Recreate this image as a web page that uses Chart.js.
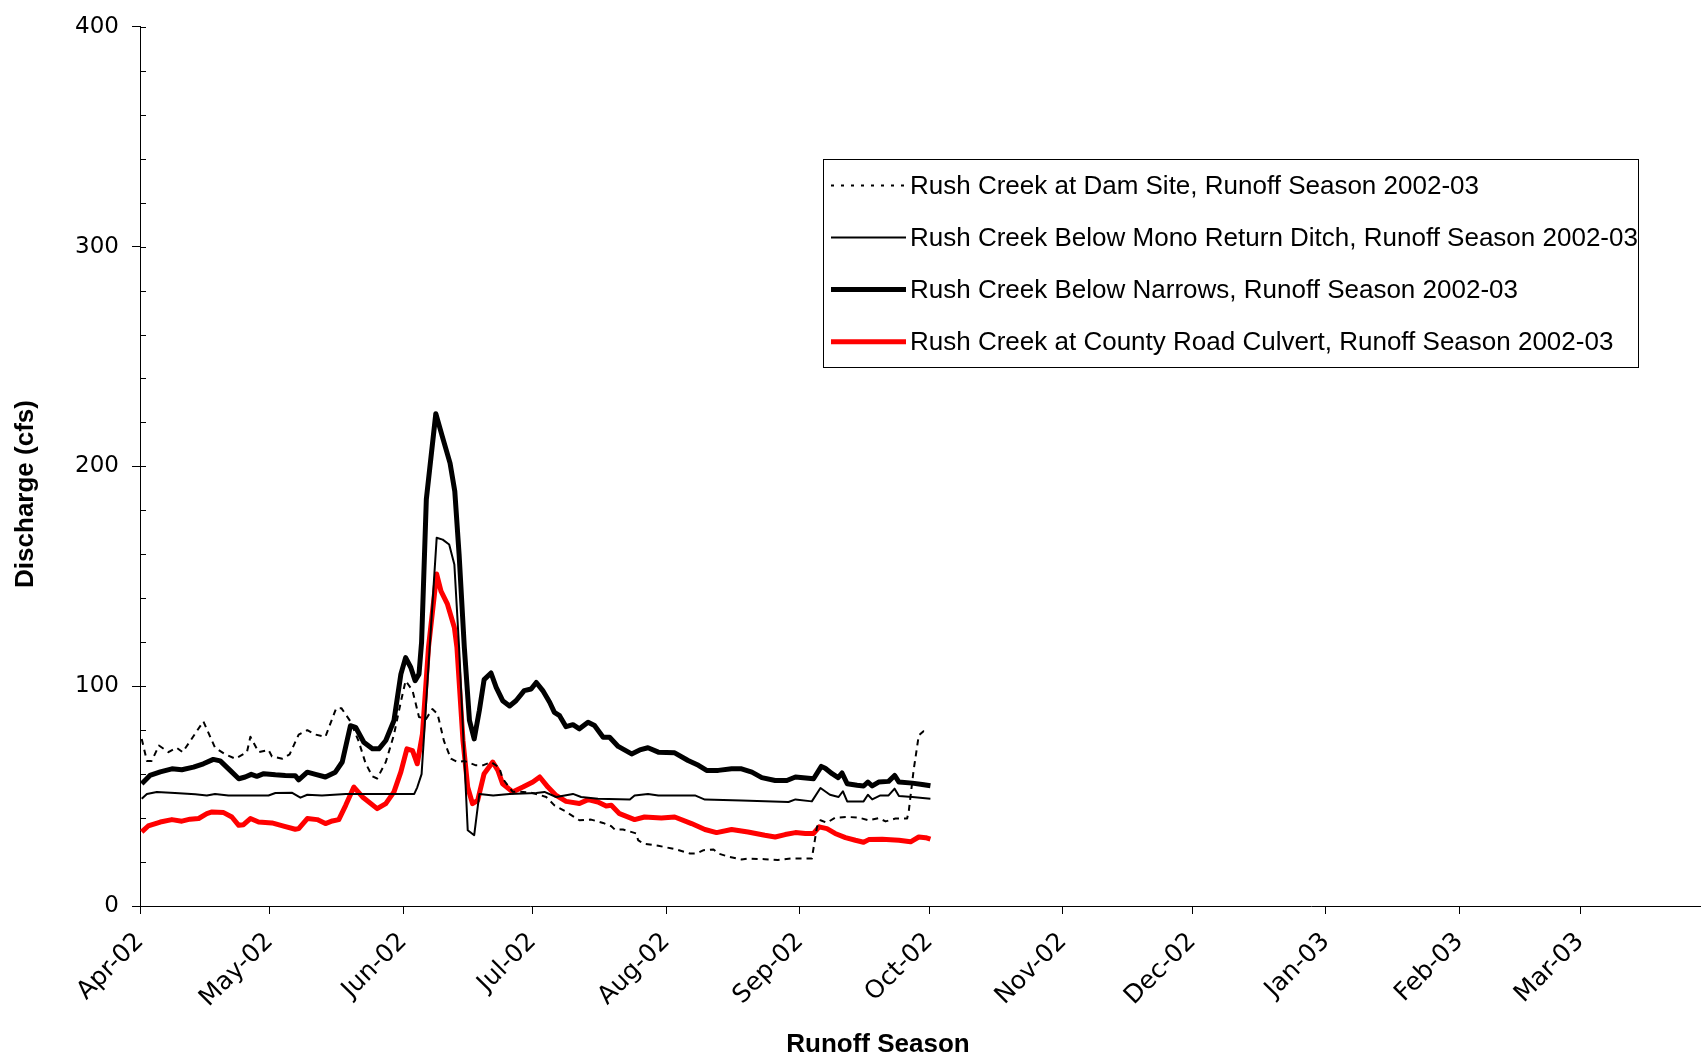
<!DOCTYPE html>
<html lang="en">
<head>
    <meta charset="UTF-8">
    <title>Rush Creek Discharge, Runoff Season 2002-03</title>
    <script src="https://cdn.jsdelivr.net/npm/chart.js"></script>
    <style>
        body { margin: 0; background: #fff; }
        canvas { display: block; }
    </style>
</head>
<body>
    <canvas id="flowChart" width="1701" height="1058"></canvas>

    <script>
        // Days are counted from 1 April 2002
        const monthDays = [0, 30, 61, 91, 122, 153, 183, 214, 244, 275, 306, 334];
        const monthLabels = ['Apr-02', 'May-02', 'Jun-02', 'Jul-02', 'Aug-02', 'Sep-02',
                             'Oct-02', 'Nov-02', 'Dec-02', 'Jan-03', 'Feb-03', 'Mar-03'];

        // Rush Creek at Dam Site
        const damDays = [0.4, 1.6, 2.7, 4.4, 6.6, 8.5, 9.9, 14.7, 17.4, 19.8, 22.1, 24.8, 25.6, 27.5, 29.8,
            30.6, 33, 34.7, 36.8, 38.8, 40.7, 43, 45.5, 46.7, 48.8, 50.7, 52.3, 53.9, 55, 57, 58.9, 60.5,
            61.6, 63.2, 64.7, 66.3, 67.8, 69, 70.5, 72.1, 73.6, 75.2, 77.9, 79.5, 81.4, 83.3, 84.1, 86.4,
            88, 90.7, 92.6, 94.2, 96.1, 98.5, 101.9, 104.6, 107.4, 109.3, 110.1, 112, 115.1, 115.5, 116.7,
            120.2, 124, 127.5, 129.1, 130.7, 133, 134.1, 136.5, 139.5, 141, 144.9, 147.9, 151, 155.8, 157,
            157.8, 159.3, 161.2, 164.3, 166.7, 169, 171.3, 172.9, 175.2, 177.9, 178.3, 179.4, 180.6, 181.7, 182.9];
        const damCfs = [76, 66, 66, 73, 70, 72, 70, 84, 72, 69, 67, 70, 77, 70, 71,
            68, 67, 69, 78, 80, 78, 77, 90, 90, 84, 75, 65, 59, 58, 65.5, 78, 93,
            102.5, 98, 86, 85, 89.6, 87.4, 75, 67, 65.5, 66, 64, 64, 65.5, 63, 58, 52,
            52, 51.5, 50.6, 49.6, 45.8, 43.2, 39, 39.3, 37.8, 36.3, 34.8, 34.8, 33, 30, 28.4,
            27.4, 25.9, 23.9, 23.9, 25.4, 25.7, 23.9, 22.4, 21.2, 21.6, 21.3, 20.9, 21.6, 21.6, 36,
            39, 37.9, 40.2, 40.5, 40.2, 39, 40, 38.5, 39.8, 39.8, 43.5, 61.7, 77.6, 79.5, 79.5];

        // Rush Creek Below Mono Return Ditch
        const monoDays = [0.4, 1.6, 3.9, 8.1, 12.8, 15.5, 17.4, 20.5, 29.8, 31.4, 35.3, 37.2, 38.8, 42.2,
            47.7, 54.7, 63.6, 64.3, 65.3, 68.8, 70.2, 71.7, 72.9, 74, 76, 77.5, 78.7, 81.9, 85.7, 91.9,
            93.8, 96.5, 98.5, 100.4, 102.3, 106.2, 113.6, 114.7, 117.8, 120.2, 124, 128.7, 131, 139.5,
            150.4, 152, 155.8, 157.8, 160, 162, 163, 164, 167.8, 168.8, 169.8, 171.7, 173.6, 175, 176,
            179.1, 183.3];
        const monoCfs = [48.8, 51, 51.9, 51.4, 50.8, 50.3, 51, 50.3, 50.3, 51.4, 51.5, 49.3, 50.6, 50.3,
            50.9, 51, 51, 54, 60, 167.5, 166.7, 164.5, 155.4, 117.6, 34.5, 32.2, 51, 50.3, 51, 51.4,
            51.9, 49.6, 50.3, 51, 49.6, 48.8, 48.4, 50.3, 51, 50.3, 50.3, 50.3, 48.4, 48,
            47.3, 48.5, 47.6, 53.7, 50.6, 49.6, 52.2, 47.6, 47.6, 50.6, 48.5, 50.3, 50.3, 53.4, 50,
            49.6, 48.8];

        // Rush Creek Below Narrows
        const narrowsDays = [0.4, 2.3, 4.7, 7.4, 9.7, 12.4, 14.7, 17, 18.6, 20.9, 22.9, 24.4, 25.8, 27.1,
            28.7, 31.4, 33.7, 36, 36.8, 38.8, 40.7, 43, 45.3, 46.9, 48.8, 50, 51.9, 53.9, 55.4, 57, 58.9,
            60.5, 61.6, 62.8, 63.8, 64.7, 65.3, 66.4, 68.6, 70.2, 71.9, 73, 74, 75.2, 76.4, 77.5, 78.7,
            79.8, 81.4, 82.6, 84.1, 85.7, 87.2, 89.1, 90.7, 91.9, 93.4, 95, 96.1, 97.3, 98.8, 100.4,
            101.9, 103.9, 105.4, 107.4, 108.9, 110.9, 114, 115.9, 117.8, 120.2, 124, 127.1, 129.5, 131.4,
            134.1, 137.2, 139.5, 141.9, 144.2, 147.3, 150, 152, 156.2, 158, 158.9, 160.5, 161.9, 162.8,
            164, 166.3, 167.8, 168.8, 169.8, 171.3, 173.6, 175, 176, 179.1, 181.4, 183.3];
        const narrowsCfs = [55.6, 59.4, 61, 62.4, 62, 63.2, 64.7, 66.7, 66, 61.7, 57.9, 58.7, 59.9, 59,
            60.2, 59.7, 59.4, 59.3, 57.4, 60.9, 59.9, 58.7, 60.9, 65.5, 82, 81.3, 74.5, 71.5, 71.5, 75.3, 84.4,
            105.5, 113, 108.5, 102.5, 105.5, 120, 185, 224, 213, 201.5, 188.7, 160, 118, 84.4, 76, 89,
            103, 106, 99.5, 93.4, 91, 93.4, 98, 98.7, 101.7, 98, 92.7, 88.1, 86.6, 81.6, 82.5,
            80.6, 83.6, 82.1, 76.8, 76.8, 72.6, 69.2, 71, 72, 70, 69.7, 66.2, 64, 61.7,
            61.7, 62.4, 62.4, 60.9, 58.4, 57.1, 57.1, 58.7, 57.9, 63.5, 62.7, 60.2, 58.4, 60.5,
            55.6, 54.9, 54.6, 56.4, 54.6, 56.4, 56.7, 59.4, 56.4, 55.9, 55.3, 54.7];

        // Rush Creek at County Road Culvert
        const culvertDays = [0.4, 1.9, 4.7, 7.4, 9.7, 11.6, 13.6, 15.5, 16.7, 19.4, 21.3, 22.9, 24, 25.6,
            27.5, 30.6, 33.3, 36, 36.8, 38.8, 41.1, 43, 44.6, 46.1, 47.7, 49.6, 51.6, 55, 57, 58.9, 60.5,
            61.9, 63.2, 64.3, 65.5, 66.9, 68.8, 69.8, 71.3, 72.9, 73.5, 74.9, 76, 77.1, 78.3, 79.8, 81.8,
            83, 84.1, 86.4, 88.8, 91.1, 92.7, 94.6, 96.5, 98.8, 101.9, 103.9, 106.2, 108.1, 109.3, 111.2,
            114.7, 117, 120.9, 124, 127.9, 131, 133.7, 137.2, 141, 144.9, 147.3, 149.6, 152, 154.3, 156.2,
            157.5, 159.3, 161.2, 163.6, 165.9, 167.8, 169, 172.1, 176, 178.7, 180.6, 182.2, 183.3];
        const culvertCfs = [33.7, 36.4, 38.2, 39.3, 38.6, 39.5, 39.8, 42, 42.8, 42.5, 40.5, 36.7, 37, 39.8,
            38.2, 37.8, 36.3, 34.9, 35.2, 39.8, 39.3, 37.5, 38.7, 39.3, 45.8, 54.1, 49.6, 44.3, 46.6, 51.9, 61,
            71.5, 70.7, 64.7, 78.3, 117.6, 151, 143.3, 137.3, 126.7, 117.6, 75.3, 54, 46.6, 48, 60.2, 65.5,
            61.7, 55.6, 51.9, 54.1, 56.4, 58.7, 54.1, 50.3, 47.6, 46.6, 48.4, 47.3, 45.5, 45.8, 42,
            39.3, 40.5, 40, 40.5, 37.5, 34.8, 33.4, 34.8, 33.7, 32.2, 31.4, 32.5, 33.4, 33, 33,
            36, 35.2, 33, 31.1, 29.9, 29, 30.2, 30.4, 29.9, 29.2, 31.4, 31.1, 30.4];

        // Pair day and value arrays into {x, y} points
        function toPoints(days, values) {
            return days.map((d, i) => ({ x: d, y: values[i] }));
        }

        const axisFont = "'DejaVu Sans', 'Liberation Sans', Arial, sans-serif";
        const textFont = "'Liberation Sans', Arial, sans-serif";
        const titleFont = "'Liberation Sans Narrow', 'Liberation Sans', Arial, sans-serif";

        // Tick marks inside the plot for the y axis (major every 100, minor every 20)
        const innerTicks = {
            id: 'innerTicks',
            afterDraw(chart) {
                const ctx = chart.ctx;
                const y = chart.scales.y;
                const left = chart.chartArea.left;
                ctx.save();
                ctx.strokeStyle = '#000';
                ctx.lineWidth = 1;
                for (let v = 0; v <= 400; v += 20) {
                    const py = Math.round(y.getPixelForValue(v)) + 0.5;
                    ctx.beginPath();
                    ctx.moveTo(left, py);
                    ctx.lineTo(left + 6, py);
                    ctx.stroke();
                }
                ctx.restore();
            }
        };

        // Axis titles placed like in the original sheet
        const axisTitles = {
            id: 'axisTitles',
            afterDraw(chart) {
                const ctx = chart.ctx;
                ctx.save();
                ctx.fillStyle = '#000';
                ctx.font = 'bold 26px ' + titleFont;
                ctx.textAlign = 'center';
                ctx.textBaseline = 'middle';
                ctx.fillText('Runoff Season', 878, 1045);
                ctx.translate(26, 494);
                ctx.rotate(-Math.PI / 2);
                ctx.fillText('Discharge (cfs)', 0, 0);
                ctx.restore();
            }
        };

        // Boxed legend inside the plot area
        const boxLegend = {
            id: 'boxLegend',
            afterDraw(chart) {
                const ctx = chart.ctx;
                const box = { x: 823, y: 159, w: 815, h: 208 };
                const rows = [185.5, 237.6, 289.6, 341.7];
                ctx.save();
                ctx.fillStyle = '#fff';
                ctx.fillRect(box.x, box.y, box.w, box.h);
                ctx.strokeStyle = '#000';
                ctx.lineWidth = 1;
                ctx.strokeRect(box.x + 0.5, box.y + 0.5, box.w, box.h);
                ctx.font = '26px ' + textFont;
                ctx.textBaseline = 'middle';
                chart.data.datasets.forEach((ds, i) => {
                    const yy = rows[i];
                    ctx.beginPath();
                    ctx.strokeStyle = ds.borderColor;
                    ctx.lineWidth = ds.borderWidth;
                    ctx.setLineDash(ds.legendDash || []);
                    ctx.moveTo(831, yy);
                    ctx.lineTo(906, yy);
                    ctx.stroke();
                    ctx.setLineDash([]);
                    ctx.fillStyle = '#000';
                    ctx.fillText(ds.label, 910, yy + 1);
                });
                ctx.restore();
            }
        };

        const ctx = document.getElementById('flowChart').getContext('2d');
        new Chart(ctx, {
            type: 'line',
            data: {
                datasets: [
                    {
                        label: 'Rush Creek at Dam Site, Runoff Season 2002-03',
                        data: toPoints(damDays, damCfs),
                        borderColor: '#000',
                        borderWidth: 2,
                        borderDash: [6, 5],
                        legendDash: [3, 7]
                    },
                    {
                        label: 'Rush Creek Below Mono Return Ditch, Runoff Season 2002-03',
                        data: toPoints(monoDays, monoCfs),
                        borderColor: '#000',
                        borderWidth: 2
                    },
                    {
                        label: 'Rush Creek Below Narrows, Runoff Season 2002-03',
                        data: toPoints(narrowsDays, narrowsCfs),
                        borderColor: '#000',
                        borderWidth: 5
                    },
                    {
                        label: 'Rush Creek at County Road Culvert, Runoff Season 2002-03',
                        data: toPoints(culvertDays, culvertCfs),
                        borderColor: '#ff0000',
                        borderWidth: 5
                    }
                ]
            },
            options: {
                responsive: false,
                animation: false,
                devicePixelRatio: 1,
                layout: { padding: { top: 24, right: 0, bottom: 0, left: 0 } },
                elements: {
                    point: { radius: 0 },
                    line: { tension: 0, fill: false, borderJoinStyle: 'round' }
                },
                plugins: {
                    legend: { display: false },
                    tooltip: { enabled: false }
                },
                scales: {
                    x: {
                        type: 'linear',
                        min: 0,
                        max: 362,
                        afterBuildTicks: (scale) => {
                            scale.ticks = monthDays.map(v => ({ value: v }));
                        },
                        afterFit: (scale) => { scale.height = 152; },
                        border: { display: true, color: '#000', width: 1 },
                        grid: { drawOnChartArea: false, drawTicks: true, tickLength: 8, color: '#000' },
                        ticks: {
                            autoSkip: false,
                            minRotation: 45,
                            maxRotation: 45,
                            padding: 13,
                            color: '#000',
                            font: { family: axisFont, size: 25 },
                            callback: (value, index) => monthLabels[index]
                        }
                    },
                    y: {
                        min: 0,
                        max: 400,
                        afterFit: (scale) => { scale.width = 140; },
                        border: { display: true, color: '#000', width: 1 },
                        grid: { drawOnChartArea: false, drawTicks: true, tickLength: 8, color: '#000' },
                        ticks: {
                            stepSize: 100,
                            padding: 13,
                            color: '#000',
                            font: { family: axisFont, size: 23 }
                        }
                    }
                }
            },
            plugins: [innerTicks, axisTitles, boxLegend]
        });
    </script>
</body>
</html>
